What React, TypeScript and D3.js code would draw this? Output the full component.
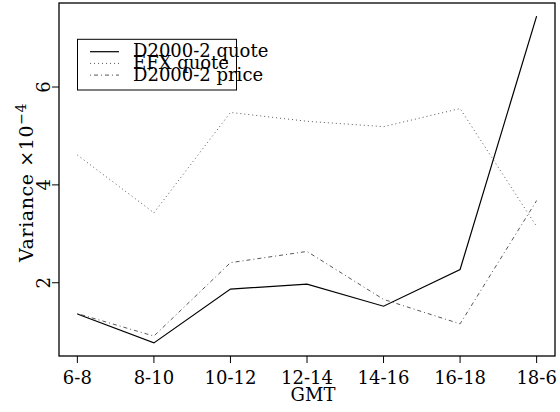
import { useEffect, useRef } from "react";
import * as d3 from "d3";

const PERIODS = ["6-8", "8-10", "10-12", "12-14", "14-16", "16-18", "18-6"];
const D2000_QUOTE = [1.36, 0.77, 1.87, 1.97, 1.52, 2.27, 7.45];
const EFX_QUOTE = [4.61, 3.43, 5.48, 5.3, 5.19, 5.56, 3.15];
const D2000_PRICE = [1.37, 0.91, 2.41, 2.64, 1.66, 1.16, 3.68];
const Y_TICKS = [2, 4, 6];

const SERIES = [
  { name: "D2000-2 quote", values: D2000_QUOTE, dash: "", color: "#000", width: 1.2 },
  { name: "EFX quote", values: EFX_QUOTE, dash: "1,3", color: "#444", width: 0.9 },
  { name: "D2000-2 price", values: D2000_PRICE, dash: "1,3,4,3", color: "#444", width: 0.9 },
];

const W = 560, H = 412;
const FONT = "'DejaVu Serif', serif";

export default function App() {
  const svgRef = useRef<SVGSVGElement>(null);

  useEffect(() => {
    const svg = d3.select(svgRef.current);
    svg.selectAll("*").remove();
    const mg = { l: 59, r: 5, t: 3, b: 56 };
    const x0 = mg.l, x1 = W - mg.r, y0 = mg.t, y1 = H - mg.b;

    // R style 4% axis expansion
    const n = PERIODS.length;
    const xS = d3.scaleLinear().domain([-0.04 * (n - 1), (n - 1) * 1.04]).range([x0, x1]);
    const all = SERIES.flatMap(s => s.values);
    const lo = d3.min(all)!, hi = d3.max(all)!;
    const pad = (hi - lo) * 0.04;
    const yS = d3.scaleLinear().domain([lo - pad, hi + pad]).range([y1, y0]);

    // box
    svg.append("rect").attr("x", x0).attr("y", y0).attr("width", x1 - x0).attr("height", y1 - y0)
      .attr("fill", "none").attr("stroke", "#000").attr("stroke-width", 1.3);

    // x axis ticks
    PERIODS.forEach((p, i) => {
      svg.append("line").attr("x1", xS(i)).attr("x2", xS(i)).attr("y1", y1).attr("y2", y1 + 7)
        .attr("stroke", "#000").attr("stroke-width", 1);
      svg.append("text").attr("x", xS(i)).attr("y", y1 + 27.5).attr("text-anchor", "middle")
        .attr("font-family", FONT).attr("font-size", 18).text(p);
    });
    svg.append("text").attr("x", (x0 + x1) / 2 + 6).attr("y", y1 + 45).attr("text-anchor", "middle")
      .attr("font-family", FONT).attr("font-size", 18).text("GMT");

    // y axis ticks
    Y_TICKS.forEach(v => {
      svg.append("line").attr("x1", x0 - 7).attr("x2", x0).attr("y1", yS(v)).attr("y2", yS(v))
        .attr("stroke", "#000").attr("stroke-width", 1);
      svg.append("text").attr("transform", `translate(${x0 - 9},${yS(v)}) rotate(-90)`)
        .attr("text-anchor", "middle").attr("font-family", FONT).attr("font-size", 18).text(v);
    });
    const yl = svg.append("text").attr("transform", `translate(33,${(y0 + y1) / 2 + 3}) rotate(-90)`)
      .attr("text-anchor", "middle").attr("font-family", FONT).attr("font-size", 19)
      .attr("letter-spacing", 0.6);
    yl.append("tspan").text("Variance ×10");
    yl.append("tspan").attr("dy", -7).attr("font-size", 14).text("−4");

    // lines
    const line = d3.line<number>().x((_, i) => xS(i)).y(d => yS(d));
    SERIES.forEach(s => {
      svg.append("path").attr("d", line(s.values)).attr("fill", "none")
        .attr("stroke", s.color).attr("stroke-width", s.width)
        .attr("stroke-dasharray", s.dash || null);
    });

    // legend
    const lg = svg.append("g");
    lg.append("rect").attr("x", 77.5).attr("y", 39.3).attr("width", 159).attr("height", 50.7)
      .attr("fill", "#fff").attr("stroke", "#000").attr("stroke-width", 1);
    SERIES.forEach((s, i) => {
      const ry = 51.7 + i * 11.7;
      lg.append("line").attr("x1", 90).attr("x2", 119).attr("y1", ry).attr("y2", ry)
        .attr("stroke", s.color).attr("stroke-width", s.width)
        .attr("stroke-dasharray", s.dash || null);
      lg.append("text").attr("x", 133).attr("y", ry + 5.5).attr("font-family", FONT)
        .attr("font-size", 18).text(s.name);
    });
  }, []);

  return (
    <div style={{ position: "fixed", left: 0, top: 0, width: W, height: H, background: "#fff" }}>
      <svg ref={svgRef} width={W} height={H} />
    </div>
  );
}
